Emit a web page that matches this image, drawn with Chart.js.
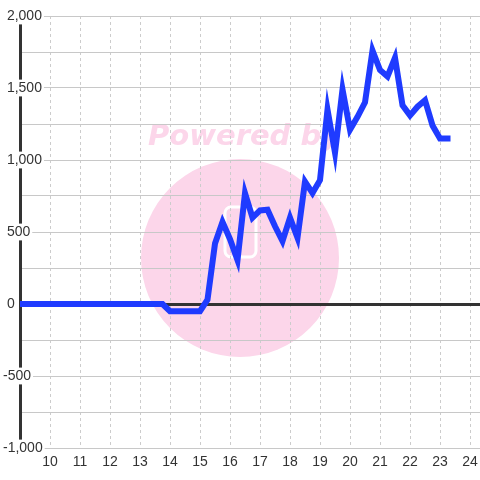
<!DOCTYPE html>
<html>
<head>
<meta charset="utf-8">
<script src="https://cdn.jsdelivr.net/npm/chart.js@4"></script>
<style>
  body { margin: 0; background: #fff; }
  #wrap { width: 480px; height: 480px; position: relative; }
</style>
</head>
<body>
<div id="wrap"><canvas id="grafica"></canvas></div>
<script>
// horas (cada 15 min) y valores
var horas = [
  9.00, 9.25, 9.50, 9.75, 10.00, 10.25, 10.50, 10.75, 11.00, 11.25,
  11.50, 11.75, 12.00, 12.25, 12.50, 12.75, 13.00, 13.25, 13.50, 13.75,
  14.00, 14.25, 14.50, 14.75, 15.00, 15.25, 15.50, 15.75, 16.00, 16.25,
  16.50, 16.75, 17.00, 17.25, 17.50, 17.75, 18.00, 18.25, 18.50, 18.75,
  19.00, 19.25, 19.50, 19.75, 20.00, 20.25, 20.50, 20.75, 21.00, 21.25,
  21.50, 21.75, 22.00, 22.25, 22.50, 22.75, 23.00, 23.25
];
var valores = [
  0, 0, 0, 0, 0, 0, 0, 0, 0, 0,
  0, 0, 0, 0, 0, 0, 0, 0, 0, 0,
  -50, -50, -50, -50, -50, 30, 420, 570, 450, 305,
  770, 600, 650, 655, 540, 437, 600, 460, 850, 770,
  860, 1350, 1050, 1490, 1210, 1300, 1400, 1760, 1625, 1580,
  1710, 1380, 1310, 1370, 1415, 1240, 1150, 1150
];
var ticksX = [10, 11, 12, 13, 14, 15, 16, 17, 18, 19, 20, 21, 22, 23, 24];
var ticksY = [-1000, -750, -500, -250, 0, 250, 500, 750, 1000, 1250, 1500, 1750, 2000];

var puntos = horas.map(function(h, i) { return { x: h, y: valores[i] }; });

// marca de agua del fondo
var marcaAgua = {
  id: 'marcaAgua',
  beforeDraw: function(chart) {
    var ctx = chart.ctx;
    ctx.save();
    ctx.fillStyle = '#fcd6ea';
    ctx.beginPath();
    ctx.arc(240, 258, 99, 0, Math.PI * 2);
    ctx.fill();
    ctx.font = 'bold italic 29px "DejaVu Sans"';
    ctx.textBaseline = 'alphabetic';
    ctx.fillText('Powered by', 148, 145);
    ctx.strokeStyle = '#fff';
    ctx.lineWidth = 3;
    ctx.beginPath();
    ctx.roundRect(225, 207, 31, 50, 6);
    ctx.stroke();
    ctx.restore();
  }
};

var grafica = new Chart(document.getElementById('grafica').getContext('2d'), {
  type: 'line',
  data: {
    datasets: [{
      data: puntos,
      borderColor: '#1f3bff',
      borderWidth: 6,
      borderCapStyle: 'square',
      pointRadius: 0,
      tension: 0,
      fill: false
    }]
  },
  options: {
    responsive: true,
    maintainAspectRatio: false,
    animation: false,
    layout: { padding: { top: 16, right: 0, bottom: 0, left: 0 } },
    plugins: {
      legend: { display: false },
      tooltip: { enabled: false }
    },
    scales: {
      x: {
        type: 'linear',
        min: 9,
        max: 24.333,
        afterBuildTicks: function(s) { s.ticks = ticksX.map(function(v) { return { value: v }; }); },
        afterFit: function(s) { s.height = 32; s.paddingRight = 0; s.paddingLeft = 0; },
        ticks: {
          autoSkip: false,
          maxRotation: 0,
          padding: 6,
          color: '#333',
          font: { family: 'Liberation Sans', size: 14 },
          callback: function(v) { return String(v); }
        },
        grid: { color: '#cccccc', lineWidth: 1, drawTicks: false },
        border: { display: false, dash: [3, 3] }
      },
      y: {
        type: 'linear',
        min: -1000,
        max: 2000,
        afterBuildTicks: function(s) { s.ticks = ticksY.map(function(v) { return { value: v }; }); },
        afterFit: function(s) { s.width = 20; s.paddingTop = 0; s.paddingBottom = 0; },
        ticks: {
          mirror: true,
          padding: -17,
          autoSkip: false,
          color: '#333',
          font: { family: 'Liberation Sans', size: 14 },
          showLabelBackdrop: true,
          backdropColor: function(c) { return c.tick && c.tick.value % 500 === 0 ? '#fff' : 'rgba(0,0,0,0)'; },
          backdropPadding: { top: 0, bottom: 0, left: 1, right: 2 },
          callback: function(v) {
            if (v % 500 !== 0) return '';
            return (v < 0 ? '' : ' ') + v.toLocaleString('en-US');
          }
        },
        grid: {
          drawTicks: false,
          color: function(c) { return c.tick && c.tick.value === 0 ? '#333' : '#c8c8c8'; },
          lineWidth: function(c) { return c.tick && c.tick.value === 0 ? 3 : 1; }
        },
        border: { display: true, color: '#333', width: 3 }
      }
    }
  },
  plugins: [marcaAgua]
});
</script>
</body>
</html>
